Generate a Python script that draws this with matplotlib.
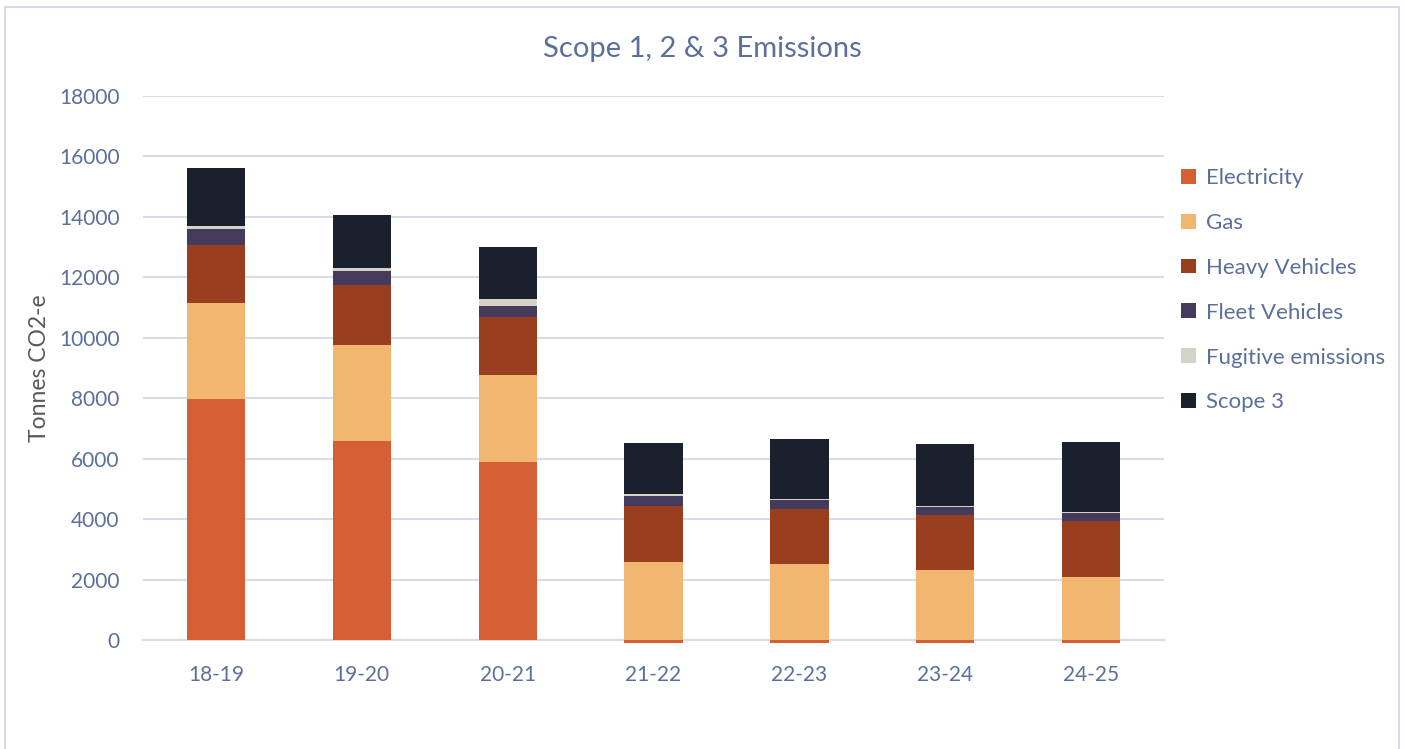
import numpy as np
import matplotlib.pyplot as plt
from matplotlib.patches import Rectangle

years = ["18-19", "19-20", "20-21", "21-22", "22-23", "23-24", "24-25"]
electricity = [7970, 6590, 5890, -100, -100, -100, -100]
gas = [3170, 3170, 2880, 2570, 2500, 2320, 2085]
heavy = [1940, 2000, 1930, 1860, 1820, 1820, 1840]
fleet = [520, 460, 350, 330, 310, 265, 290]
fugitive = [100, 100, 250, 80, 45, 45, 15]
scope3 = [1920, 1740, 1710, 1680, 1985, 2040, 2310]

labels = ["Electricity", "Gas", "Heavy Vehicles", "Fleet Vehicles",
          "Fugitive emissions", "Scope 3"]
colors = ["#D55F35", "#F1B770", "#9A3E20", "#433A5C", "#D5D3C7", "#1A202C"]

text_col = "#5B7099"
grid_col = "#D9DCE8"

plt.rcParams['font.family'] = ['Lato', 'DejaVu Sans']

fig = plt.figure(figsize=(14.05, 7.49), dpi=100)
ax = fig.add_axes([0.1018, 0.1455, 0.7267, 0.7263])

x = np.arange(len(years))
series = [electricity, gas, heavy, fleet, fugitive, scope3]
pos_bottom = np.zeros(len(years))
neg_bottom = np.zeros(len(years))
for vals, lab, col in zip(series, labels, colors):
    v = np.array(vals, dtype=float)
    bottom = np.where(v >= 0, pos_bottom, neg_bottom)
    ax.bar(x, v, 0.40, bottom=bottom, color=col, label=lab,
           clip_on=False, zorder=3)
    pos_bottom = pos_bottom + np.where(v >= 0, v, 0)
    neg_bottom = neg_bottom + np.where(v < 0, v, 0)

ax.set_xlim(-0.5, len(years) - 0.5)
ax.set_ylim(0, 18000)
ax.set_yticks(np.arange(0, 18001, 2000))
ax.set_xticks(x)
ax.set_xticklabels(years)
ax.yaxis.grid(True, color=grid_col, linewidth=1.5, zorder=0)
ax.set_axisbelow(True)
for s in ["top", "right", "left"]:
    ax.spines[s].set_visible(False)
ax.spines["bottom"].set_color(grid_col)
ax.spines["bottom"].set_linewidth(1.5)
ax.tick_params(axis="both", length=0, labelsize=15, colors=text_col)
ax.tick_params(axis="x", pad=18)
ax.tick_params(axis="y", pad=17)

ax.set_ylabel("Tonnes CO2-e", fontsize=16.5, color="#595959", labelpad=6)
fig.text(0.4996, 0.935, "Scope 1, 2 & 3 Emissions", ha="center", va="center",
         fontsize=21, color=text_col)

leg = ax.legend(loc="upper left", bbox_to_anchor=(1.008, 0.884), frameon=False,
                fontsize=16, handlelength=0.65, handleheight=0.65,
                handletextpad=0.45, labelspacing=1.12, borderaxespad=0)
for t in leg.get_texts():
    t.set_color(text_col)

fig.patches.append(Rectangle((5 / 1405, -0.05), 1394 / 1405, 1.05 - 7 / 749,
                             transform=fig.transFigure, fill=False,
                             edgecolor=grid_col, linewidth=1.5))

fig.savefig("out.png", dpi=100)
